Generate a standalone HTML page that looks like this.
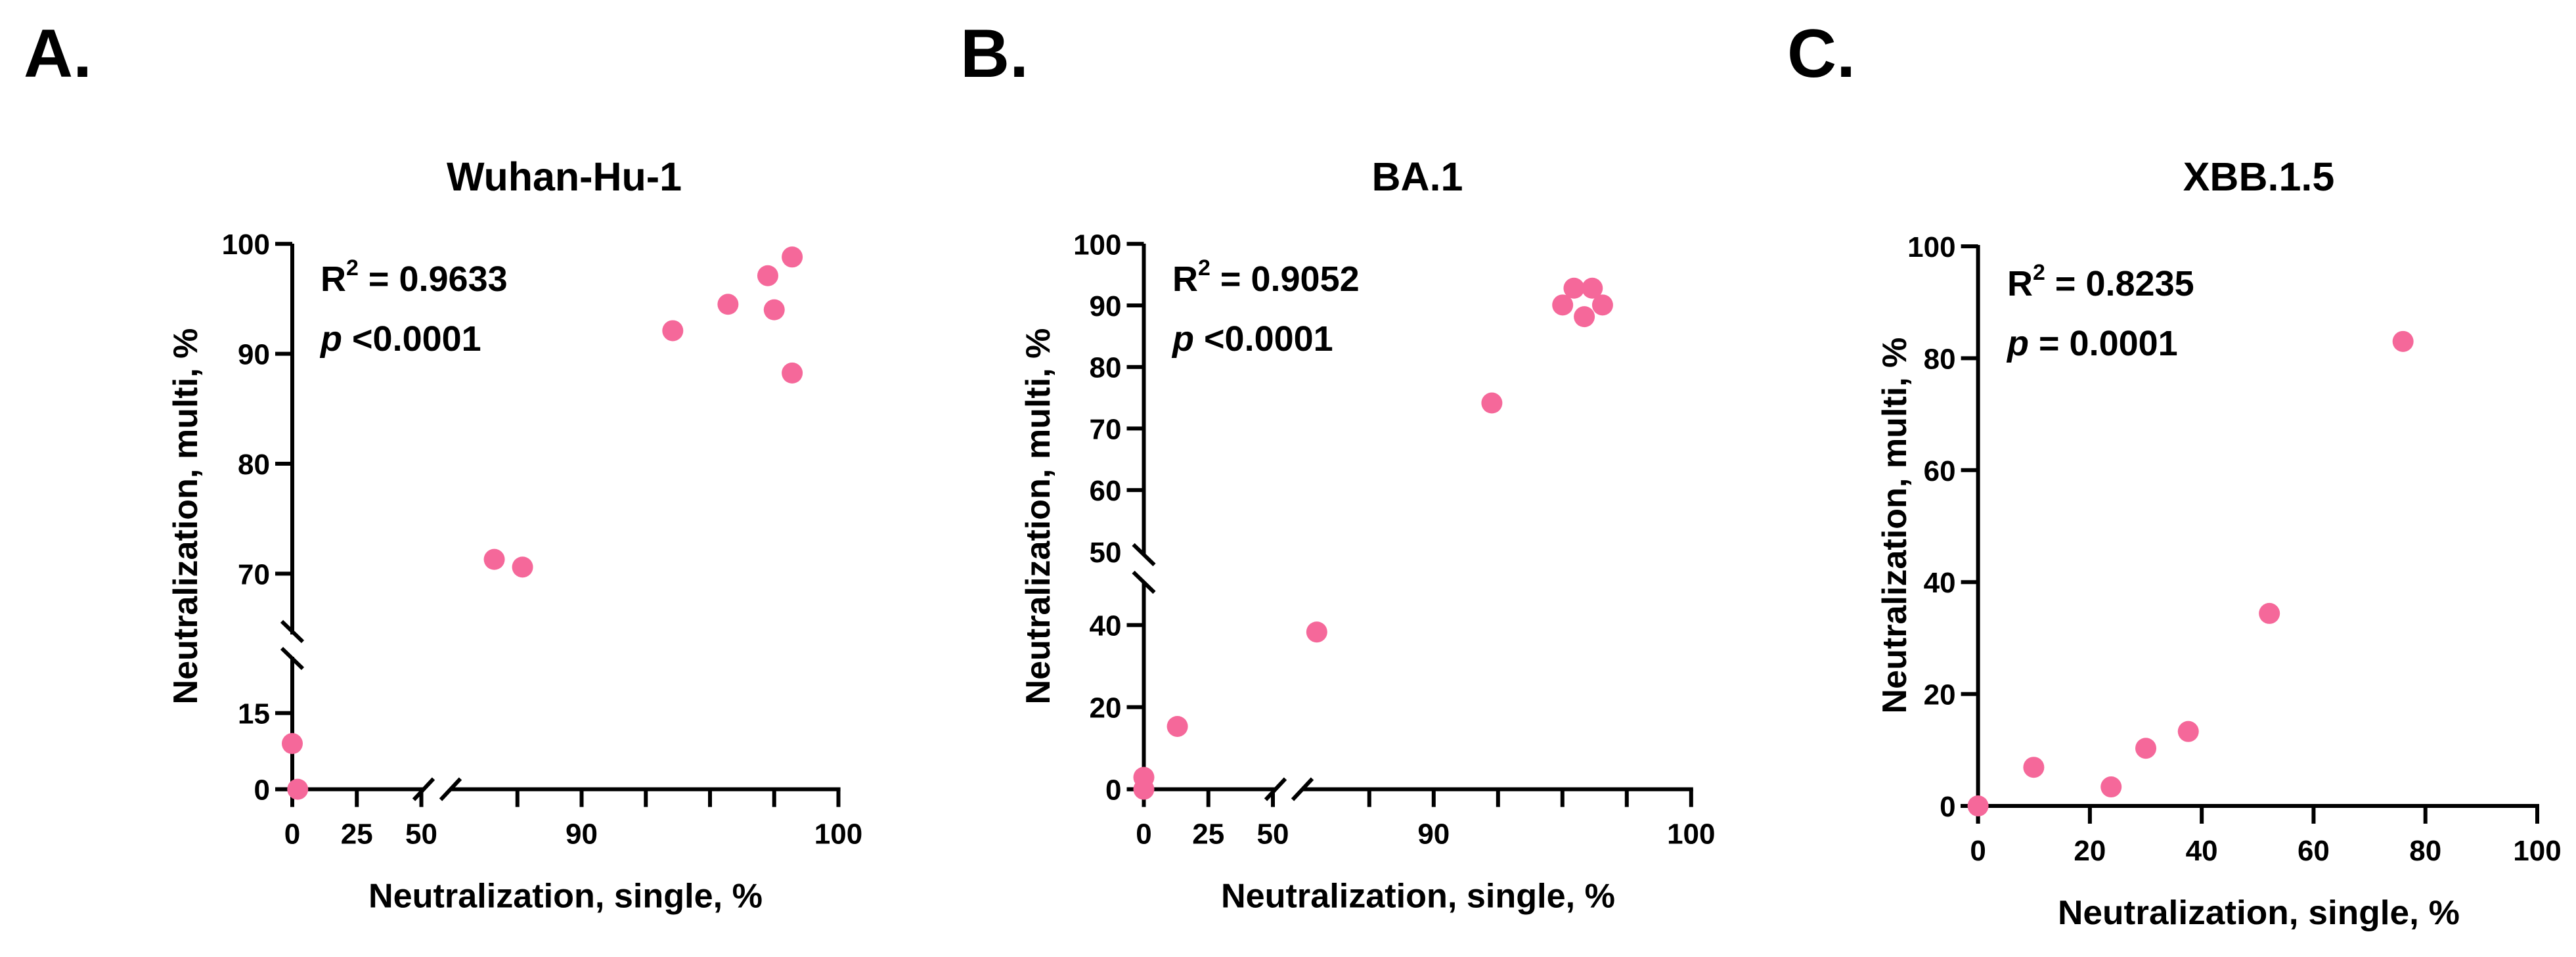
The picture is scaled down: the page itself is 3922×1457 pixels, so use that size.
<!DOCTYPE html>
<html><head><meta charset="utf-8">
<style>
html,body{margin:0;padding:0;background:#fff;}
svg{display:block;}
text{font-family:"Liberation Sans",Arial,sans-serif;font-weight:bold;fill:#000;}
</style></head>
<body>
<svg id="fig" width="3922" height="1457" viewBox="0 0 3922 1457" xmlns="http://www.w3.org/2000/svg">
<rect width="3922" height="1457" fill="#fff"/>
<text x="36" y="117" font-size="104">A.</text>
<text x="1462" y="117" font-size="104">B.</text>
<text x="2721" y="117" font-size="104">C.</text>
<g id="pA"></g>
<g id="pB"></g>
<g id="pC"></g>
</svg>
<script>
// ---- data ----
const wuhanSingle = [0, 2.1, 86.6, 87.7, 93.55, 95.7, 97.25, 97.5, 98.2, 98.2];
const wuhanMulti  = [9.0, 0, 71.3, 70.6, 92.1, 94.5, 97.1, 94.0, 98.8, 88.25];
const ba1Single = [0, 0, 13.0, 85.46, 92.26, 95.45, 96.16, 95.01, 96.56, 95.85];
const ba1Multi  = [2.9, 0, 15.3, 38.3, 74.15, 92.8, 92.8, 90.07, 90.07, 88.17];
const xbbSingle = [0, 9.96, 23.8, 30.0, 37.6, 52.1, 76.0];
const xbbMulti  = [0, 6.9, 3.4, 10.3, 13.3, 34.4, 83.0];
const panelTitles = ["Wuhan-Hu-1", "BA.1", "XBB.1.5"];
const r2Labels = ["0.9633", "0.9052", "0.8235"];
const pLabels = ["<0.0001", "<0.0001", "= 0.0001"];
const aYTicks = [0, 15, 70, 80, 90, 100];
const aXTicks = [0, 25, 50, 87.5, 90, 92.5, 95, 97.5, 100];
const aXLabels = [0, 25, 50, 90, 100];
const bYTicks = [0, 20, 40, 60, 70, 80, 90, 100];
const bYLabels = [0, 20, 40, 50, 60, 70, 80, 90, 100];
const bXTicks = [0, 25, 50, 87.5, 90, 92.5, 95, 97.5, 100];
const bXLabels = [0, 25, 50, 90, 100];
const cTicks = [0, 20, 40, 60, 80, 100];

const NS = "http://www.w3.org/2000/svg";
const PINK = "#f5689a";
function mk(parent, tag, attrs){ const e=document.createElementNS(NS,tag); for(const k in attrs) e.setAttribute(k,attrs[k]); parent.appendChild(e); return e; }
function line(g,x1,y1,x2,y2,name){ const l=mk(g,"line",{x1:x1,y1:y1,x2:x2,y2:y2,stroke:"#000","stroke-width":6});
  
   return l; }
function txt(g,x,y,s,size,anchor,name){ const t=mk(g,"text",{x:x,y:y,"font-size":size,"text-anchor":anchor}); t.textContent=s;
  
   return t; }

function panel(cfg){
  const g=document.getElementById(cfg.id);
  const X=cfg.x, Y=cfg.y, ax=cfg.axisX, ay=cfg.axisY;
  txt(g,cfg.titleX,290,cfg.title,61,"middle","panel-title");
  cfg.ySegs.forEach(s=>line(g,ax,s[0],ax,s[1],"y-axis-line"));
  cfg.xSegs.forEach(s=>line(g,s[0],ay,s[1],ay,"x-axis-line"));
  cfg.yBreaks.forEach(b=>line(g,ax-16,b,ax+16,b+31,"y-axis-break"));
  cfg.xBreaks.forEach(b=>line(g,b-15,ay+16,b+15,ay-16,"x-axis-break"));
  cfg.yTicks.forEach(v=>line(g,ax-26,Y(v),ax,Y(v),"y-tick"));
  cfg.yLabels.forEach(v=>txt(g,ax-34,Y(v)+16,String(v),44,"end","y-tick-label"));
  cfg.xTicks.forEach(v=>line(g,X(v),ay,X(v),ay+27,"x-tick"));
  cfg.xLabels.forEach(v=>txt(g,X(v),ay+83,String(v),44,"middle","x-tick-label"));
  const xt=txt(g,cfg.xTitleX,ay+180,"Neutralization, single, %",52,"start","x-axis-title");
  xt.setAttribute("textLength",cfg.xTitleW); xt.setAttribute("lengthAdjust","spacingAndGlyphs");
  const yt=txt(g,0,0,"Neutralization, multi, %",52,"middle","y-axis-title");
  yt.setAttribute("transform","translate("+cfg.yTitleX+","+cfg.yTitleY+") rotate(-90)");
  yt.setAttribute("textLength",573); yt.setAttribute("lengthAdjust","spacingAndGlyphs");
  const r=mk(g,"text",{x:cfg.statX,y:cfg.r2Y,"font-size":54});
  
  
  r.appendChild(document.createTextNode("R"));
  const sup=mk(r,"tspan",{dy:-24,"font-size":34}); sup.textContent="2";
  const rest=mk(r,"tspan",{dy:24}); rest.textContent=" = "+cfg.r2;
  const p=mk(g,"text",{x:cfg.statX,y:cfg.pY,"font-size":54});
  
  
  const pi=mk(p,"tspan",{"font-style":"italic"}); pi.textContent="p";
  const pr=mk(p,"tspan",{}); pr.textContent=" "+cfg.p;
  cfg.xs.forEach((v,i)=>{
    const c=mk(g,"circle",{cx:X(v),cy:Y(cfg.ys[i]),r:16,fill:PINK});
    
    
  });
}

panel({id:"pA", axisX:445, axisY:1201.6,
  x:v=> v<=60 ? 445+v*3.93 : 885.5+(v-90)*39.1,
  y:v=> v<=30 ? 1201.6-v*7.73 : 873.4-(v-70)*16.74,
  ySegs:[[371,966],[1000,1228]], xSegs:[[419,645],[686,1279.6]],
  yBreaks:[946,987], xBreaks:[645,686],
  yTicks:aYTicks, yLabels:aYTicks, xTicks:aXTicks, xLabels:aXLabels,
  title:panelTitles[0], titleX:859, xTitleX:561, xTitleW:600, yTitleX:300, yTitleY:786,
  statX:488, r2Y:443, pY:534, r2:r2Labels[0], p:pLabels[0],
  xs:wuhanSingle, ys:wuhanMulti});

panel({id:"pB", axisX:1741.5, axisY:1201.6,
  x:v=> v<=60 ? 1741.5+v*3.93 : 2182.8+(v-90)*39.2,
  y:v=> v<50 ? 1201.6-v*6.25 : 465-(v-90)*9.37,
  ySegs:[[371,844],[886,1228]], xSegs:[[1716,1942],[1983,2577.8]],
  yBreaks:[829,871], xBreaks:[1942,1983],
  yTicks:bYTicks, yLabels:bYLabels, xTicks:bXTicks, xLabels:bXLabels,
  title:panelTitles[1], titleX:2158, xTitleX:1859, xTitleW:600, yTitleX:1598, yTitleY:786,
  statX:1785, r2Y:443, pY:534, r2:r2Labels[1], p:pLabels[1],
  xs:ba1Single, ys:ba1Multi});

panel({id:"pC", axisX:3011.6, axisY:1227,
  x:v=> 3011.6+v*8.514,
  y:v=> 1227-v*8.52,
  ySegs:[[373,1254]], xSegs:[[2985,3866]],
  yBreaks:[], xBreaks:[],
  yTicks:cTicks, yLabels:cTicks, xTicks:cTicks, xLabels:cTicks,
  title:panelTitles[2], titleX:3439, xTitleX:3133, xTitleW:612, yTitleX:2902, yTitleY:800,
  statX:3056, r2Y:450, pY:541, r2:r2Labels[2], p:pLabels[2],
  xs:xbbSingle, ys:xbbMulti});
</script>
</body></html>
